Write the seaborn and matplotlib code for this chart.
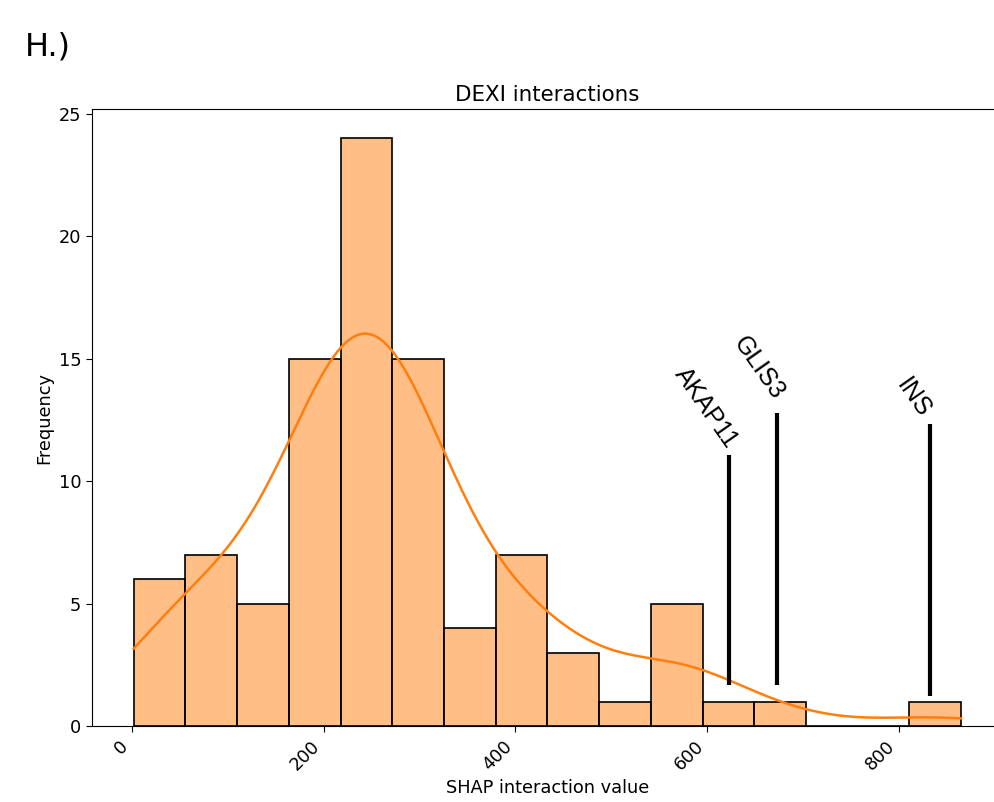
import numpy as np
import pandas as pd
import matplotlib
matplotlib.use("Agg")
import matplotlib.pyplot as plt
import seaborn as sns

# ---- data ----
bin_start = 1.7
bin_width = 53.96
counts = [6, 7, 5, 15, 24, 15, 4, 7, 3, 1, 5, 1, 1, 0, 0, 1]
genes = ["AKAP11", "GLIS3", "INS"]
gene_x = [622.8, 672.6, 832.4]
gene_top = [11.05, 12.77, 12.34]
gene_bottom = [1.68, 1.68, 1.23]
title = "DEXI interactions"
xlabel = "SHAP interaction value"
ylabel = "Frequency"
panel = "H.)"

# label offsets (points) – layout only
label_offsets = [(2.6, 7.1), (1.8, 11.4), (-3.2, 6.4)]

edges = bin_start + bin_width * np.arange(len(counts) + 1)
centers = (edges[:-1] + edges[1:]) / 2
values = np.repeat(centers, counts)
df = pd.DataFrame({"value": values})

bw_adjust = 1.05
bw = values.std(ddof=1) * len(values) ** (-1 / 5) * bw_adjust
cut = (bin_width / 2) / bw

W, H = 995, 802
fig = plt.figure(figsize=(W / 100, H / 100), dpi=100)
ax = fig.add_axes([92.3 / W, (H - 726) / H, (1002.5 - 92.3) / W, (726 - 109) / H])

sns.histplot(data=df, x="value", bins=edges, kde=True, ax=ax,
             color="#ff7f0e", alpha=0.5, edgecolor="black", linewidth=1.2,
             kde_kws={"cut": cut, "bw_adjust": bw_adjust},
             line_kws={"linewidth": 1.8})

for g, x, t, b, off in zip(genes, gene_x, gene_top, gene_bottom, label_offsets):
    ax.vlines(x, b, t, color="black", linewidth=3)
    ax.annotate(g, xy=(x, t), xytext=off, textcoords="offset points",
                rotation=-55, rotation_mode="anchor", ha="right", va="center",
                fontsize=18, family="Liberation Sans")

ax.set_title(title, fontsize=15.4)
ax.set_xlabel(xlabel, fontsize=12.8)
ax.set_ylabel(ylabel, fontsize=12.8)
ax.tick_params(labelsize=12.8, length=4.5)
plt.setp(ax.get_xticklabels(), rotation=45, ha="right")

fig.text(25 / W, 1 - 47 / H, panel, fontsize=23, va="center", ha="left")

fig.savefig("out.png", dpi=100)
